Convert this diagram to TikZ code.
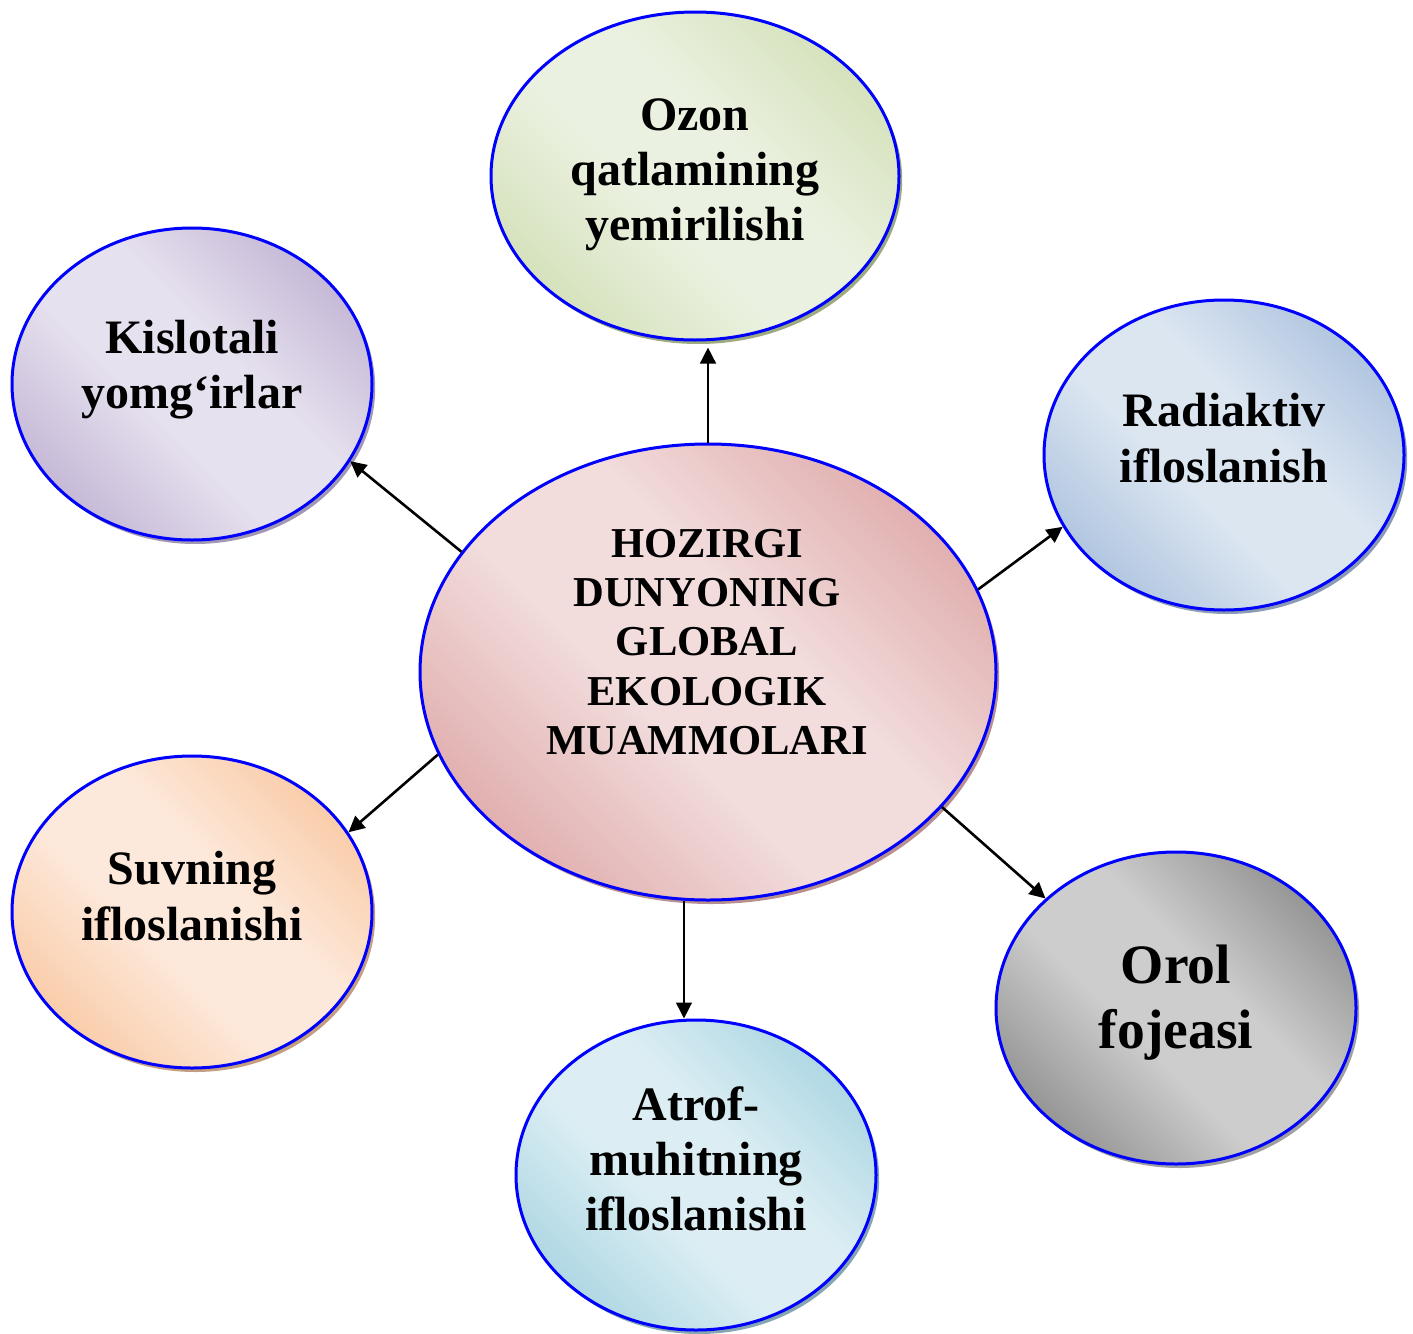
\documentclass[tikz,border=0pt]{standalone}
\usepackage{fontspec}
\setmainfont{Liberation Serif}
\usetikzlibrary{arrows.meta,shadows,shapes.geometric}
\definecolor{ozD}{HTML}{D1DFB5}\definecolor{ozL}{HTML}{EBF1E0}\definecolor{ozS}{HTML}{9DAB80}
\definecolor{kiD}{HTML}{BFB1D3}\definecolor{kiL}{HTML}{E6E1EE}\definecolor{kiS}{HTML}{A398B4}
\definecolor{ceD}{HTML}{DEA6A6}\definecolor{ceL}{HTML}{F2DCDC}\definecolor{ceS}{HTML}{B89090}
\definecolor{raD}{HTML}{A8BFDD}\definecolor{raL}{HTML}{DCE6F1}\definecolor{raS}{HTML}{8B9BB3}
\definecolor{suD}{HTML}{F9C7A0}\definecolor{suL}{HTML}{FDE9DB}\definecolor{suS}{HTML}{C49E80}
\definecolor{atD}{HTML}{A6D3E0}\definecolor{atL}{HTML}{DCEEF4}\definecolor{atS}{HTML}{86A6B2}
\definecolor{orD}{HTML}{8A8A8A}\definecolor{orL}{HTML}{CDCDCD}\definecolor{orS}{HTML}{A0A0A0}
\newcommand\mkshade[3]{\pgfdeclareverticalshading{#1}{100bp}{color(0bp)=(#2); color(21bp)=(#2); color(43bp)=(#3); color(57bp)=(#3); color(79bp)=(#2); color(100bp)=(#2)}}
\mkshade{ozSh}{ozD}{ozL}
\mkshade{kiSh}{kiD}{kiL}
\mkshade{ceSh}{ceD}{ceL}
\mkshade{raSh}{raD}{raL}
\mkshade{suSh}{suD}{suL}
\mkshade{atSh}{atD}{atL}
\mkshade{orSh}{orD}{orL}
\tikzset{
  bubble/.style n args={4}{ellipse, draw=blue, line width=1.5pt, inner sep=0pt,
    minimum width=#1, minimum height=#2,
    shading=#3, shading angle=-45,
    general shadow={fill=#4, shadow xshift=1.6pt, shadow yshift=-2pt}},
  txt/.style={align=center, font=\bfseries\fontsize{24pt}{27.6pt}\selectfont, text=black, inner sep=0pt},
  arr/.style={line width=1.3pt, -{Triangle[length=8pt,width=7.8pt]}}
}
\begin{document}
\begin{tikzpicture}[x=0.5pt,y=-0.5pt]
\useasboundingbox (0,0) rectangle (1413,1333);
% ellipses
\node[bubble={204pt}{164pt}{ozSh}{ozS}] (ozon) at (695,176) {};
\node[bubble={180pt}{156pt}{kiSh}{kiS}] (kis) at (192,384) {};
\node[bubble={180pt}{155pt}{raSh}{raS}] (rad) at (1224,455) {};
\node[bubble={288pt}{228pt}{ceSh}{ceS}] (c) at (708,672) {};
\node[bubble={180pt}{156pt}{suSh}{suS}] (suv) at (192,912) {};
\node[bubble={180pt}{155pt}{atSh}{atS}] (atr) at (696,1175) {};
\node[bubble={180pt}{156pt}{orSh}{orS}] (orol) at (1176,1008) {};
% texts
\node[txt] (ozon-t) at (695,175) {Ozon\\qatlamining\\yemirilishi};
\node[txt] (kis-t) at (192,370) {Kislotali\\yomg‘irlar};
\node[txt] (rad-t) at (1224,438) {Radiaktiv\\ifloslanish};
\node[txt, font=\bfseries\fontsize{21.3pt}{24.6pt}\selectfont] (c-t) at (707,642) {HOZIRGI\\DUNYONING\\GLOBAL\\EKOLOGIK\\MUAMMOLARI};
\node[txt] (suv-t) at (192,896) {Suvning\\ifloslanishi};
\node[txt] (atr-t) at (696,1159) {Atrof-\\muhitning\\ifloslanishi};
\node[txt, font=\bfseries\fontsize{27.8pt}{32.4pt}\selectfont] (orol-t) at (1176,1003) {Orol\\fojeasi};
% connectors
\draw[arr, shorten >=3pt] (c.north) -- (c.north |- ozon.south);
\draw[arr] (c.154) -- (kis.-26);
\draw[arr] (c.17.6) -- (rad.-156.6);
\draw[arr] (c.197.8) -- (suv.27.1);
\draw[arr] (c.-96) -- (c.-96 |- atr.north);
\draw[arr] (c.-30) -- (orol.140.6);
\end{tikzpicture}
\end{document}
